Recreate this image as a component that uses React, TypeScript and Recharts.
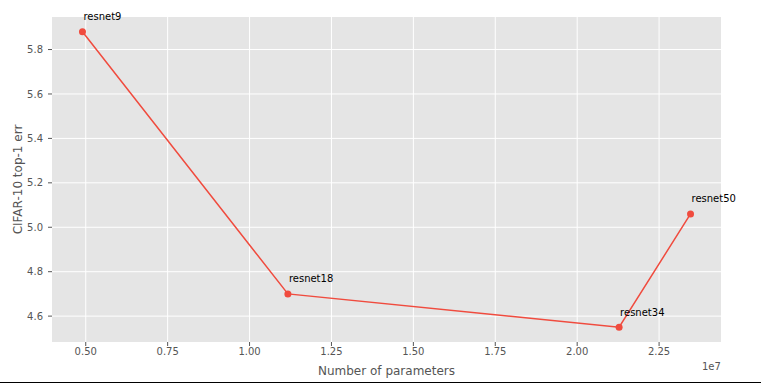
import React from 'react';
import { LineChart, Line, XAxis, YAxis, CartesianGrid, LabelList } from 'recharts';

const models = ['resnet9', 'resnet18', 'resnet34', 'resnet50'];
const params = [4.9e6, 11.17e6, 21.28e6, 23.46e6];
const errors = [5.88, 4.70, 4.55, 5.06];
const xTicks = [5e6, 7.5e6, 10e6, 12.5e6, 15e6, 17.5e6, 20e6, 22.5e6];
const yTicks = [4.6, 4.8, 5.0, 5.2, 5.4, 5.6, 5.8];

const data = models.map((m, i) => ({ name: m, x: params[i], y: errors[i] }));

const FONT = '"DejaVu Sans", sans-serif';
const RED = '#F04B3E';

const renderLabel = (props: any) => {
  const { x, y, value } = props;
  return (
    <text x={Number(x) + 1} y={Number(y) - 11.5} fontSize={10} fill="#000" fontFamily={FONT}>
      {value}
    </text>
  );
};

export default function App() {
  return (
    <div style={{ position: 'absolute', left: 0, top: 0, width: 761, height: 384, background: '#fff', fontFamily: FONT }}>
      <LineChart
        width={761}
        height={384}
        data={data}
        margin={{ top: 17, right: 40, bottom: 0, left: 0 }}
      >
        <CartesianGrid fill="#E5E5E5" stroke="#FFFFFF" strokeWidth={1} horizontalValues={yTicks} verticalValues={xTicks} />
        <XAxis
          dataKey="x"
          type="number"
          domain={[3.97e6, 24.39e6]}
          ticks={xTicks}
          allowDataOverflow
          height={42}
          tickFormatter={(v: number) => (v / 1e7).toFixed(2)}
          axisLine={false}
          tickLine={{ stroke: '#555555' }}
          tickSize={4}
          tickMargin={2}
          tick={{ fill: '#555555', fontSize: 10, fontFamily: FONT }}
          label={{ value: 'Number of parameters', position: 'insideBottom', offset: 9, fill: '#555555', fontSize: 12, fontFamily: FONT }}
        />
        <YAxis
          dataKey="y"
          type="number"
          domain={[4.4835, 5.9465]}
          ticks={yTicks}
          allowDataOverflow
          width={52}
          tickFormatter={(v: number) => v.toFixed(1)}
          axisLine={false}
          tickLine={{ stroke: '#555555' }}
          tickSize={4}
          tickMargin={5}
          tick={{ fill: '#555555', fontSize: 10, fontFamily: FONT }}
          label={{ value: 'CIFAR-10 top-1 err', angle: -90, position: 'insideLeft', offset: 18, fill: '#555555', fontSize: 12, fontFamily: FONT, style: { textAnchor: 'middle' } }}
        />
        <Line
          dataKey="y"
          stroke={RED}
          strokeWidth={1.5}
          dot={{ r: 3.5, fill: RED, stroke: RED, strokeWidth: 0 }}
          activeDot={false}
          isAnimationActive={false}
        >
          <LabelList dataKey="name" content={renderLabel} />
        </Line>
      </LineChart>
      <div style={{ position: 'absolute', left: 702, top: 361, fontSize: 10, color: '#555555', fontFamily: FONT, lineHeight: '12px' }}>1e7</div>
      <div style={{ position: 'absolute', left: 0, top: 382, width: 761, height: 1, background: '#000' }} />
    </div>
  );
}
